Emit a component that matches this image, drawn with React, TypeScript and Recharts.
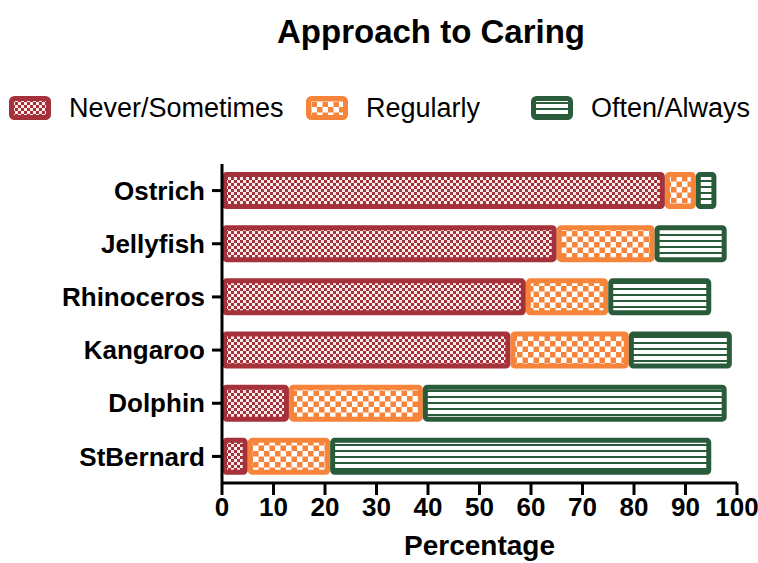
import React from 'react';
import { BarChart, Bar, XAxis, YAxis } from 'recharts';

const categories = ['Ostrich', 'Jellyfish', 'Rhinoceros', 'Kangaroo', 'Dolphin', 'StBernard'];
const neverSometimes = [86, 65, 59, 56, 13, 5];
const regularly = [6, 19, 16, 23, 26, 16];
const oftenAlways = [4, 14, 20, 20, 59, 74];
const xTicks = [0, 10, 20, 30, 40, 50, 60, 70, 80, 90, 100];

const RED = '#a5323a';
const ORANGE = '#f6843a';
const GREEN = '#2a5c3b';
const FONT = '"Liberation Sans", Arial, Helvetica, sans-serif';

const data = categories.map((name, i) => ({
  name,
  never: neverSometimes[i],
  regular: regularly[i],
  often: oftenAlways[i],
}));

// patterned rect with the border drawn inside the bar
function PatternBar(color: string, pattern: string) {
  return (props: any) => {
    const { x, y, width, height } = props;
    const sw = 5;
    if (!width || width <= 0) return null;
    return (
      <rect
        x={x + sw / 2}
        y={y + sw / 2}
        width={Math.max(width - sw, 0)}
        height={height - sw}
        rx={2}
        fill={`url(#${pattern})`}
        stroke={color}
        strokeWidth={sw}
      />
    );
  };
}

function Patterns() {
  return (
    <svg width={0} height={0} style={{ position: 'absolute' }}>
      <defs>
        <pattern id="patRed" width={6} height={6} patternUnits="userSpaceOnUse">
          <rect width={6} height={6} fill="#fbeaea" />
          <rect width={3} height={3} fill={RED} />
          <rect x={3} y={3} width={3} height={3} fill={RED} />
        </pattern>
        <pattern id="patOrange" width={11} height={11} patternUnits="userSpaceOnUse">
          <rect width={11} height={11} fill="#fff" />
          <rect width={5.5} height={5.5} fill={ORANGE} />
          <rect x={5.5} y={5.5} width={5.5} height={5.5} fill={ORANGE} />
        </pattern>
        <pattern id="patGreen" width={6} height={6} patternUnits="userSpaceOnUse">
          <rect width={6} height={6} fill="#fff" />
          <rect y={0} width={6} height={2} fill={GREEN} />
        </pattern>
      </defs>
    </svg>
  );
}

function Swatch({ color, pattern }: { color: string; pattern: string }) {
  return (
    <svg width={42} height={24} style={{ display: 'block' }}>
      <rect x={2.5} y={2.5} width={37} height={19} rx={3} fill={`url(#${pattern})`} stroke={color} strokeWidth={5} />
    </svg>
  );
}

const legendItems = [
  { label: 'Never/Sometimes', color: RED, pattern: 'patRed', left: 9 },
  { label: 'Regularly', color: ORANGE, pattern: 'patOrange', left: 306 },
  { label: 'Often/Always', color: GREEN, pattern: 'patGreen', left: 531 },
];

export default function App() {
  const tickStyle = { fontSize: 26, fontWeight: 700, fill: '#000', fontFamily: FONT };
  return (
    <div style={{ position: 'absolute', left: 0, top: 0, width: 758, height: 563, background: '#fff', fontFamily: FONT }}>
      <Patterns />
      <div style={{ position: 'absolute', top: 12, left: 0, width: 862, textAlign: 'center', fontSize: 33, fontWeight: 700, lineHeight: '40px' }}>
        Approach to Caring
      </div>
      {legendItems.map((it) => (
        <div key={it.label} style={{ position: 'absolute', top: 91, left: it.left, display: 'flex', alignItems: 'center', height: 34 }}>
          <Swatch color={it.color} pattern={it.pattern} />
          <span style={{ fontSize: 27, marginLeft: 18, lineHeight: '34px' }}>{it.label}</span>
        </div>
      ))}
      <div style={{ position: 'absolute' }}>
        <BarChart
          width={758}
          height={563}
          data={data}
          layout="vertical"
          margin={{ top: 164, right: 21, bottom: 0, left: 0 }}
          barSize={37}
        >
          <XAxis
            type="number"
            domain={[0, 100]}
            ticks={xTicks}
            interval={0}
            height={80}
            axisLine={{ stroke: '#000', strokeWidth: 3 }}
            tickLine={{ stroke: '#000', strokeWidth: 3 }}
            tickSize={12}
            tickMargin={3}
            tick={tickStyle}
          />
          <YAxis
            type="category"
            dataKey="name"
            width={222}
            axisLine={{ stroke: '#000', strokeWidth: 3 }}
            tickLine={{ stroke: '#000', strokeWidth: 3 }}
            tickSize={10}
            tickMargin={7}
            tick={tickStyle}
          />
          <Bar dataKey="never" stackId="a" shape={PatternBar(RED, 'patRed')} isAnimationActive={false} />
          <Bar dataKey="regular" stackId="a" shape={PatternBar(ORANGE, 'patOrange')} isAnimationActive={false} />
          <Bar dataKey="often" stackId="a" shape={PatternBar(GREEN, 'patGreen')} isAnimationActive={false} />
        </BarChart>
      </div>
      <div style={{ position: 'absolute', top: 528, left: 222, width: 515, textAlign: 'center', fontSize: 28, fontWeight: 700, lineHeight: '36px' }}>
        Percentage
      </div>
    </div>
  );
}
